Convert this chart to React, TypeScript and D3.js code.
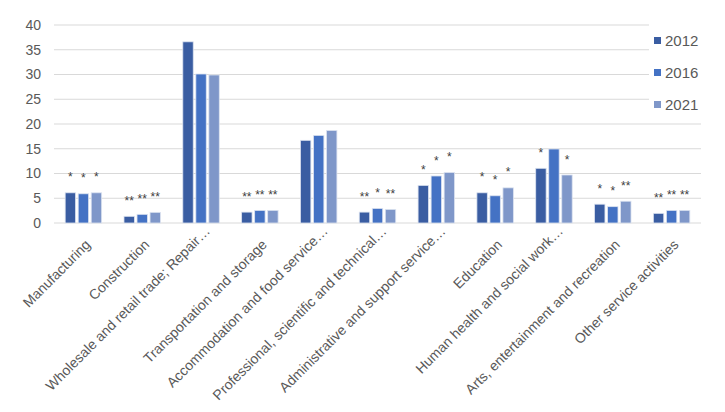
import React, { useEffect, useRef } from 'react';
import * as d3 from 'd3';

const categories = [
  'Manufacturing',
  'Construction',
  'Wholesale and retail trade; Repair…',
  'Transportation and storage',
  'Accommodation and food service…',
  'Professional, scientific and technical…',
  'Administrative and support service…',
  'Education',
  'Human health and social work…',
  'Arts, entertainment and recreation',
  'Other service activities',
];

const years = ['2012', '2016', '2021'];

const values2012 = [6.1, 1.35, 36.6, 2.2, 16.7, 2.2, 7.6, 6.1, 11.05, 3.8, 1.95];
const values2016 = [5.9, 1.75, 30.1, 2.55, 17.7, 2.95, 9.5, 5.5, 14.95, 3.3, 2.55];
const values2021 = [6.1, 2.15, 29.9, 2.55, 18.7, 2.75, 10.2, 7.1, 9.7, 4.4, 2.55];

const flags2012 = ['*', '**', '', '**', '', '**', '*', '*', '*', '*', '**'];
const flags2016 = ['*', '**', '', '**', '', '*', '*', '*', '', '*', '**'];
const flags2021 = ['*', '**', '', '**', '', '**', '*', '*', '*', '**', '**'];

const yTicks = [0, 5, 10, 15, 20, 25, 30, 35, 40];

const colors = ['#3A5DA2', '#4472C4', '#7F97C9'];

const App: React.FC = () => {
  const svgRef = useRef<SVGSVGElement>(null);

  useEffect(() => {
    document.body.style.margin = '0';
    if (!svgRef.current) return;
    const svg = d3.select(svgRef.current);
    svg.selectAll('*').remove();

    const font = '"Liberation Sans", Arial, sans-serif';
    const left = 54;
    const right = 701;
    const top = 25;
    const bottom = 223;

    const series = [values2012, values2016, values2021];
    const flags = [flags2012, flags2016, flags2021];

    const x = d3.scaleBand().domain(categories).range([left, right]).paddingInner(0).paddingOuter(0);
    const inner = d3.scaleBand().domain(years).range([x.bandwidth() * 0.19, x.bandwidth() * 0.81]).paddingInner(0.2);
    const y = d3.scaleLinear().domain([0, 40]).range([bottom, top]);

    // gridlines (upper ones stop short of the legend)
    svg.append('g')
      .selectAll('line')
      .data(yTicks.slice(1))
      .enter()
      .append('line')
      .attr('x1', left)
      .attr('x2', d => (d >= 25 ? 649 : right))
      .attr('y1', d => y(d))
      .attr('y2', d => y(d))
      .attr('stroke', '#D9D9D9')
      .attr('stroke-width', 1);

    svg.append('line')
      .attr('x1', left).attr('x2', right)
      .attr('y1', y(0)).attr('y2', y(0))
      .attr('stroke', '#D9D9D9');

    // y tick labels
    svg.append('g')
      .selectAll('text')
      .data(yTicks)
      .enter()
      .append('text')
      .attr('x', 41)
      .attr('y', d => y(d))
      .attr('dy', '0.35em')
      .attr('text-anchor', 'end')
      .attr('font-family', font)
      .attr('font-size', 14)
      .attr('fill', '#595959')
      .text(d => d);

    // bars and flags
    years.forEach((yr, si) => {
      const g = svg.append('g');
      g.selectAll('rect')
        .data(categories)
        .enter()
        .append('rect')
        .attr('x', c => (x(c) || 0) + (inner(yr) || 0))
        .attr('y', (c, i) => y(series[si][i]))
        .attr('width', inner.bandwidth())
        .attr('height', (c, i) => y(0) - y(series[si][i]))
        .attr('fill', colors[si])
        .attr('stroke', '#DCE3F0')
        .attr('stroke-width', 0.8);

      g.selectAll('text')
        .data(categories)
        .enter()
        .append('text')
        .attr('x', c => (x(c) || 0) + (inner(yr) || 0) + inner.bandwidth() / 2)
        .attr('y', (c, i) => y(series[si][i]) - 18)
        .attr('dy', '0.55em')
        .attr('text-anchor', 'middle')
        .attr('font-family', font)
        .attr('font-size', 12)
        .attr('fill', '#404040')
        .text((c, i) => flags[si][i]);
    });

    // x labels (truncated ones sit a little further up the diagonal)
    svg.append('g')
      .selectAll('text')
      .data(categories)
      .enter()
      .append('text')
      .attr('transform', c => {
        const cx = (x(c) || 0) + x.bandwidth() / 2;
        const cut = c.endsWith('…');
        return `translate(${cx + (cut ? 6.5 : 4.5)},${cut ? 228.5 : 242}) rotate(-45)`;
      })
      .attr('dy', '0.35em')
      .attr('text-anchor', 'end')
      .attr('font-family', font)
      .attr('font-size', 14)
      .attr('fill', '#595959')
      .text(c => c);

    // legend
    const legend = svg.append('g')
      .selectAll('g')
      .data(years)
      .enter()
      .append('g')
      .attr('transform', (d, i) => `translate(654,${41 + i * 32})`);
    legend.append('rect')
      .attr('x', 0).attr('y', -4)
      .attr('width', 7).attr('height', 7)
      .attr('fill', (d, i) => colors[i]);
    legend.append('text')
      .attr('x', 11)
      .attr('dy', '0.35em')
      .attr('font-family', font)
      .attr('font-size', 15)
      .attr('fill', '#595959')
      .text(d => d);
  }, []);

  return <svg ref={svgRef} width={725} height={412} style={{ display: 'block', background: '#fff' }} />;
};

export default App;
